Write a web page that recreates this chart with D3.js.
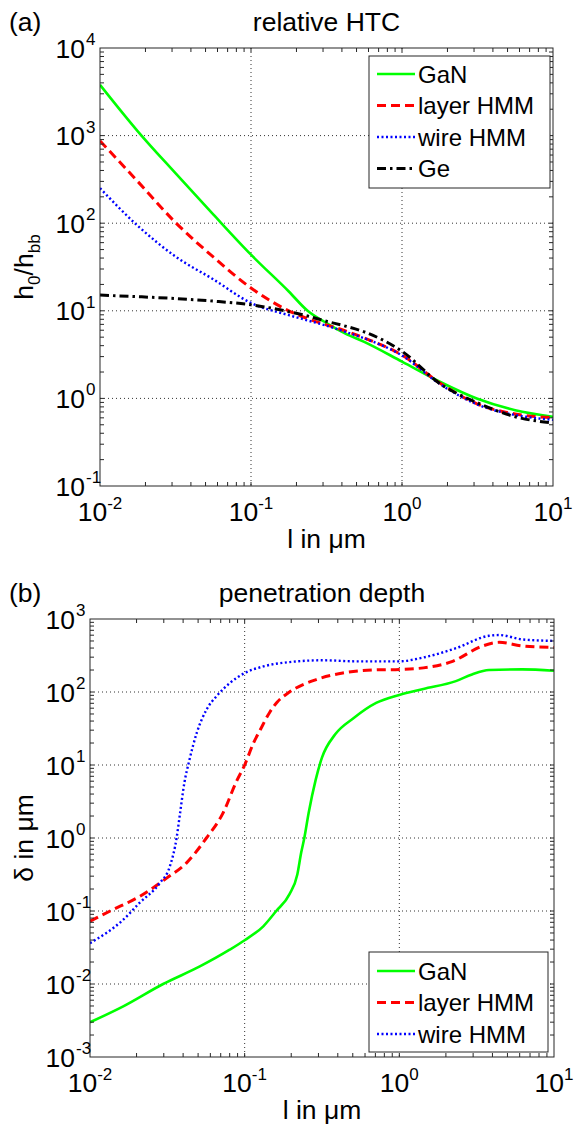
<!DOCTYPE html>
<html>
<head>
<meta charset="utf-8">
<script src="https://cdn.jsdelivr.net/npm/d3@7/dist/d3.min.js"></script>
<style>
body { margin: 0; background: #fff; }
svg text { font-family: "Liberation Sans", Arial, sans-serif; fill: #000; }
</style>
</head>
<body>
<div id="chart"></div>
<script>
// (a) relative HTC, h0/hbb vs l in um
var lHtc = [0.01, 0.0178, 0.0316, 0.0562, 0.1, 0.178, 0.237, 0.316, 0.422, 0.562, 1, 1.78, 3.16, 5.62, 10];
var htcGaN   = [3800, 1120, 372, 126, 43.7, 16.6, 10.0, 7.24, 5.5, 4.42, 2.63, 1.55, 0.99, 0.733, 0.617];
var htcLayer = [871, 299, 102, 41.2, 18.2, 10.0, 8.13, 6.92, 5.89, 4.90, 3.12, 1.50, 0.861, 0.664, 0.603];
var htcWire  = [251, 93.3, 41.7, 22.9, 12.3, 8.91, 7.76, 6.76, 5.75, 4.85, 3.09, 1.46, 0.851, 0.646, 0.569];
var htcGe    = [15.1, 14.5, 13.8, 12.9, 11.7, 9.77, 8.71, 7.59, 6.68, 5.75, 3.45, 1.48, 0.891, 0.617, 0.525];

// (b) penetration depth, delta in um vs l in um
var lPenGaN = [0.01, 0.0164, 0.0297, 0.0513, 0.08, 0.1, 0.132, 0.16, 0.195, 0.219, 0.232, 0.243, 0.259, 0.288, 0.316, 0.385, 0.505, 0.708, 1, 1.43, 2.32, 2.95, 3.8, 6.24, 10];
var penGaN  = [0.00299, 0.00494, 0.01, 0.0174, 0.0295, 0.0398, 0.0617, 0.1, 0.17, 0.316, 0.631, 1.0, 2.19, 6.31, 12.6, 26.3, 43.7, 70.8, 91.2, 110, 141, 174, 200, 204, 195];
var lPenLayer = [0.01, 0.0135, 0.0209, 0.0313, 0.0421, 0.0566, 0.0724, 0.0883, 0.1, 0.114, 0.126, 0.145, 0.162, 0.195, 0.29, 0.431, 0.673, 1, 1.43, 2.21, 3.45, 4.42, 6.24, 10];
var penLayer  = [0.0724, 0.1, 0.158, 0.282, 0.457, 1.0, 2.19, 5.89, 10, 20, 30.2, 52.5, 72.4, 100, 148, 182, 200, 204, 214, 263, 427, 479, 427, 407];
var lPenWire = [0.01, 0.0164, 0.0209, 0.0282, 0.0328, 0.0363, 0.038, 0.0407, 0.0437, 0.049, 0.0566, 0.0656, 0.08, 0.1, 0.132, 0.195, 0.32, 0.525, 1, 1.41, 2.32, 3.8, 4.42, 6.24, 10];
var penWire  = [0.0363, 0.0759, 0.129, 0.24, 0.407, 1.0, 2.0, 5.62, 11.2, 27.5, 57.1, 87.1, 132, 182, 224, 257, 272, 263, 263, 295, 398, 589, 603, 525, 501];

var xTicks = [0.01, 0.1, 1, 10];
var yTicksHtc = [0.1, 1, 10, 100, 1000, 10000];
var yTicksPen = [0.001, 0.01, 0.1, 1, 10, 100, 1000];

var styles = {
  GaN:   {color: "#00ff00", dash: null, width: 2.6},
  layer: {color: "#ff0000", dash: "9,5", width: 3},
  wire:  {color: "#0000ff", dash: "2,2.5", width: 2.4},
  Ge:    {color: "#000000", dash: "9,4,2.5,4", width: 3}
};

var fs = 26.5;     // axes font size
var fsSup = 17;    // exponent size
var fsLeg = 24;    // legend font size

var svg = d3.select("#chart").append("svg")
  .attr("width", 574)
  .attr("height", 1127);

function pairs(xs, ys) {
  return xs.map((v, i) => [v, ys[i]]);
}

function drawPanel(p) {
  var x = d3.scaleLog().domain([xTicks[0], xTicks[xTicks.length - 1]]).range([p.left, p.right]);
  var y = d3.scaleLog().domain([p.yTicks[0], p.yTicks[p.yTicks.length - 1]]).range([p.bottom, p.top]);
  var g = svg.append("g");

  // dotted grid at inner decades
  g.selectAll(".vgrid")
    .data(xTicks.slice(1, -1))
    .enter().append("line")
    .attr("x1", d => x(d)).attr("x2", d => x(d))
    .attr("y1", p.top).attr("y2", p.bottom)
    .attr("stroke", "#333").attr("stroke-width", 1).attr("stroke-dasharray", "1,3");
  g.selectAll(".hgrid")
    .data(p.yTicks.slice(1, -1))
    .enter().append("line")
    .attr("y1", d => y(d)).attr("y2", d => y(d))
    .attr("x1", p.left).attr("x2", p.right)
    .attr("stroke", "#333").attr("stroke-width", 1).attr("stroke-dasharray", "1,3");

  var clipId = "clip" + p.id;
  svg.append("clipPath").attr("id", clipId)
    .append("rect")
    .attr("x", p.left).attr("y", p.top)
    .attr("width", p.right - p.left).attr("height", p.bottom - p.top);

  var line = d3.line()
    .x(d => x(d[0]))
    .y(d => y(d[1]))
    .curve(d3.curveMonotoneX);

  g.append("g").attr("clip-path", `url(#${clipId})`)
    .selectAll("path")
    .data(p.series)
    .enter().append("path")
    .attr("d", d => line(d.points))
    .attr("fill", "none")
    .attr("stroke", d => styles[d.key].color)
    .attr("stroke-width", d => styles[d.key].width)
    .attr("stroke-dasharray", d => styles[d.key].dash)
    .attr("stroke-linejoin", "round");

  // box
  g.append("rect")
    .attr("x", p.left).attr("y", p.top)
    .attr("width", p.right - p.left).attr("height", p.bottom - p.top)
    .attr("fill", "none").attr("stroke", "#262626").attr("stroke-width", 1);

  // ticks on all four sides, pointing in
  var tl = 4;
  var xt = x.ticks().filter(v => v > x.domain()[0] * 1.0001 && v < x.domain()[1] * 0.9999);
  var yt = y.ticks().filter(v => v > y.domain()[0] * 1.0001 && v < y.domain()[1] * 0.9999);
  xt.forEach(function(v) {
    g.append("line").attr("x1", x(v)).attr("x2", x(v)).attr("y1", p.bottom).attr("y2", p.bottom - tl).attr("stroke", "#262626");
    g.append("line").attr("x1", x(v)).attr("x2", x(v)).attr("y1", p.top).attr("y2", p.top + tl).attr("stroke", "#262626");
  });
  yt.forEach(function(v) {
    g.append("line").attr("y1", y(v)).attr("y2", y(v)).attr("x1", p.left).attr("x2", p.left + tl).attr("stroke", "#262626");
    g.append("line").attr("y1", y(v)).attr("y2", y(v)).attr("x1", p.right).attr("x2", p.right - tl).attr("stroke", "#262626");
  });

  // tick labels
  xTicks.forEach(function(v) {
    var t = g.append("text")
      .attr("x", x(v)).attr("y", p.bottom + 35)
      .attr("text-anchor", "middle")
      .attr("font-size", fs);
    t.append("tspan").text("10");
    t.append("tspan").attr("dy", -12).attr("font-size", fsSup).text(Math.round(Math.log10(v)));
  });
  p.yTicks.forEach(function(v) {
    g.append("text")
      .attr("x", p.left - 15).attr("y", y(v) + 9.5)
      .attr("text-anchor", "end")
      .attr("font-size", fs)
      .text("10");
    g.append("text")
      .attr("x", p.left - 14).attr("y", y(v) - 3)
      .attr("font-size", fsSup)
      .text(Math.round(Math.log10(v)));
  });

  // titles
  svg.append("text")
    .attr("x", 9).attr("y", p.top - 17)
    .attr("font-size", fs)
    .text(p.tag);
  svg.append("text")
    .attr("x", (p.left + p.right) / 2).attr("y", p.top - 17)
    .attr("text-anchor", "middle")
    .attr("font-size", fs)
    .text(p.title);

  svg.append("text")
    .attr("x", (p.left + p.right) / 2).attr("y", p.bottom + 62)
    .attr("text-anchor", "middle")
    .attr("font-size", fs)
    .text("l in \u03bcm");

  var yl = svg.append("text")
    .attr("transform", `translate(33, ${(p.top + p.bottom) / 2}) rotate(-90)`)
    .attr("text-anchor", "middle")
    .attr("font-size", fs);
  p.ylabel(yl);

  // legend
  var lg = svg.append("g");
  lg.append("rect")
    .attr("x", p.legend.x0).attr("y", p.legend.y0)
    .attr("width", p.legend.x1 - p.legend.x0).attr("height", p.legend.y1 - p.legend.y0)
    .attr("fill", "#fff").attr("stroke", "#262626").attr("stroke-width", 1);
  var rows = lg.selectAll(".row")
    .data(p.series)
    .enter().append("g")
    .attr("transform", (d, i) => `translate(${p.legend.x0}, ${p.legend.y0 + p.legend.first + i * p.legend.step})`);
  rows.append("line")
    .attr("x1", 8).attr("x2", 46).attr("y1", 0).attr("y2", 0)
    .attr("stroke", d => styles[d.key].color)
    .attr("stroke-width", d => styles[d.key].width)
    .attr("stroke-dasharray", d => styles[d.key].dash);
  rows.append("text")
    .attr("x", 49).attr("y", 8.5)
    .attr("font-size", fsLeg)
    .text(d => d.name);
}

drawPanel({
  id: "a", tag: "(a)", title: "relative HTC",
  left: 100, right: 553, top: 48, bottom: 486,
  yTicks: yTicksHtc,
  series: [
    {key: "GaN", name: "GaN", points: pairs(lHtc, htcGaN)},
    {key: "layer", name: "layer HMM", points: pairs(lHtc, htcLayer)},
    {key: "wire", name: "wire HMM", points: pairs(lHtc, htcWire)},
    {key: "Ge", name: "Ge", points: pairs(lHtc, htcGe)}
  ],
  legend: {x0: 369, x1: 550, y0: 56, y1: 188, first: 18, step: 31.5},
  ylabel: function(t) {
    t.append("tspan").text("h");
    t.append("tspan").attr("dy", 7).attr("font-size", fsSup).text("0");
    t.append("tspan").attr("dy", -7).text("/h");
    t.append("tspan").attr("dy", 7).attr("font-size", fsSup).text("bb");
  }
});

drawPanel({
  id: "b", tag: "(b)", title: "penetration depth",
  left: 90, right: 554, top: 619, bottom: 1057,
  yTicks: yTicksPen,
  series: [
    {key: "GaN", name: "GaN", points: pairs(lPenGaN, penGaN)},
    {key: "layer", name: "layer HMM", points: pairs(lPenLayer, penLayer)},
    {key: "wire", name: "wire HMM", points: pairs(lPenWire, penWire)}
  ],
  legend: {x0: 369, x1: 548, y0: 952, y1: 1052, first: 19, step: 31.5},
  ylabel: function(t) {
    t.text("\u03b4 in \u03bcm");
  }
});
</script>
</body>
</html>
